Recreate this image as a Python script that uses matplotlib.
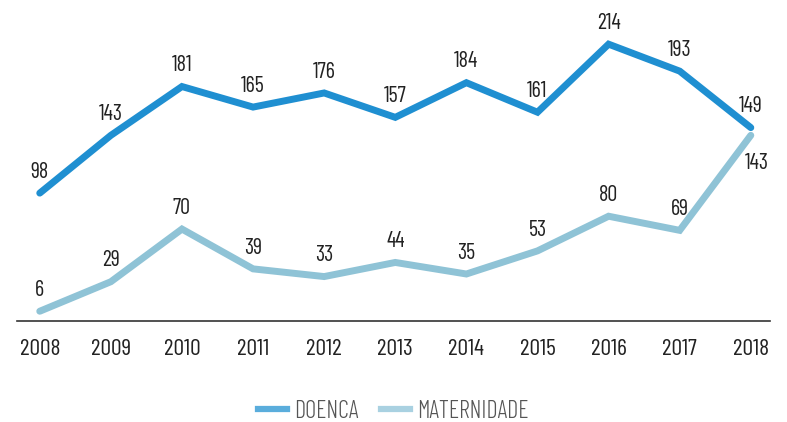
import matplotlib.pyplot as plt
from matplotlib.lines import Line2D

years = [2008, 2009, 2010, 2011, 2012, 2013, 2014, 2015, 2016, 2017, 2018]
doenca = [98, 143, 181, 165, 176, 157, 184, 161, 214, 193, 149]
maternidade = [6, 29, 70, 39, 33, 44, 35, 53, 80, 69, 143]

plt.rcParams['font.family'] = ['Barlow Condensed', 'DejaVu Sans']

c_doenca = '#1f8fd1'
c_mat = '#8fc3d6'

fig = plt.figure(figsize=(7.87, 4.22), dpi=100)
ax = fig.add_axes([17 / 787, 101 / 422, 753 / 787, 321 / 422])

ax.plot(years, doenca, color=c_doenca, lw=5, solid_capstyle='round',
        solid_joinstyle='miter')
ax.plot(years, maternidade, color=c_mat, lw=5, solid_capstyle='round',
        solid_joinstyle='miter')

# value labels above each point (last maternidade one goes below)
for x, v in zip(years, doenca):
    ax.annotate(str(v), (x, v), xytext=(0, 11), textcoords='offset points',
                ha='center', va='baseline', fontsize=16, color='#222222')
for x, v in zip(years, maternidade):
    dx, dy = (4, -24) if x == 2018 else (0, 11)
    ax.annotate(str(v), (x, v), xytext=(dx, dy), textcoords='offset points',
                ha='center', va='baseline', fontsize=16, color='#222222')

ax.set_xlim(2007.68, 2018.27)
ax.set_ylim(-1.6, 248.4)
ax.set_xticks(years)
ax.set_xticklabels([str(y) for y in years])
ax.set_yticks([])
for s in ['top', 'right', 'left']:
    ax.spines[s].set_visible(False)
ax.spines['bottom'].set_color('#333333')
ax.spines['bottom'].set_linewidth(1.2)
ax.tick_params(axis='x', length=0, pad=13, labelsize=17, labelcolor='#222222')

handles = [Line2D([], [], color='#5aaddc', lw=4.5),
           Line2D([], [], color='#a9d1e1', lw=4.5)]
leg = fig.legend(handles, ['DOENCA', 'MATERNIDADE'], loc='center',
                 bbox_to_anchor=(0.5, 11 / 422), ncol=2, frameon=False,
                 fontsize=17.5, handlelength=1.2, columnspacing=0.9,
                 handletextpad=0.3, borderpad=0.2)
for t in leg.get_texts():
    t.set_color('#555555')
    t.set_fontweight(300)

fig.savefig('out.png', dpi=100)
